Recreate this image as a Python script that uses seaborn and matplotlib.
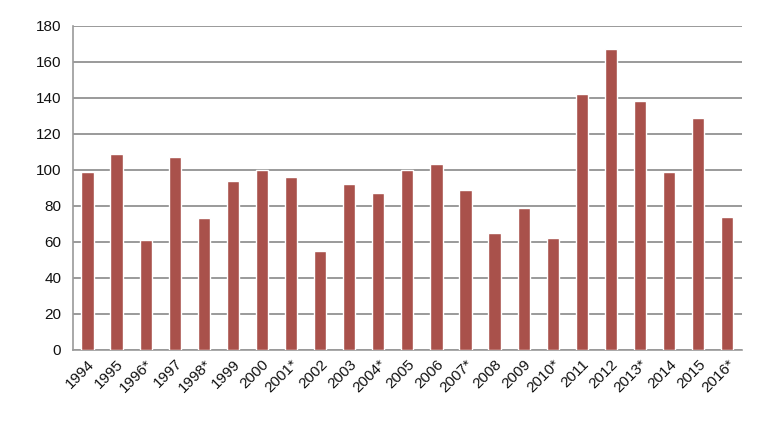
import numpy as np
import pandas as pd
import matplotlib
matplotlib.use("Agg")
import matplotlib.pyplot as plt
import seaborn as sns

# values
years = ["1994", "1995", "1996*", "1997", "1998*", "1999", "2000", "2001*", "2002",
         "2003", "2004*", "2005", "2006", "2007*", "2008", "2009", "2010*", "2011",
         "2012", "2013*", "2014", "2015", "2016*"]
counts = [99, 109, 61, 107, 73, 94, 100, 96, 55, 92, 87, 100, 103, 89, 65, 79, 62,
          142, 167, 138, 99, 129, 74]

df = pd.DataFrame({"year": years, "count": counts})

sns.set_style("white")
plt.rcParams["font.family"] = ["Liberation Sans", "DejaVu Sans"]

fig = plt.figure(figsize=(7.6, 4.24), dpi=100)
ax = fig.add_axes([0.096, 0.175, 0.88, 0.764])

sns.barplot(data=df, x="year", y="count", color="#A9514B", saturation=1,
            width=0.42, ax=ax, zorder=3)

ax.set_ylim(0, 180)
ax.set_yticks(range(0, 181, 20))
ax.set_xlim(-0.5, len(years) - 0.5)
ax.yaxis.grid(True, color="#9a9a9a", linewidth=1.4, zorder=0)
ax.set_xlabel("")
ax.set_ylabel("")

for s in ["top", "right"]:
    ax.spines[s].set_visible(False)
for s in ["left", "bottom"]:
    ax.spines[s].set_color("#9a9a9a")
    ax.spines[s].set_linewidth(1.2)

# excel style ticks between categories
ax.set_xticks(np.arange(-0.5, len(years) + 0.5, 1), minor=True)
ax.tick_params(axis="x", which="major", length=0, pad=5)
ax.tick_params(axis="x", which="minor", length=5, color="#9a9a9a", width=1.2)
ax.tick_params(axis="y", length=5, color="#9a9a9a", width=1.2, labelsize=11, labelcolor="#111111")
ax.set_xticklabels(years, rotation=45, ha="right", rotation_mode="anchor",
                   fontsize=11, color="#111111")

fig.savefig("out.png", dpi=100)
